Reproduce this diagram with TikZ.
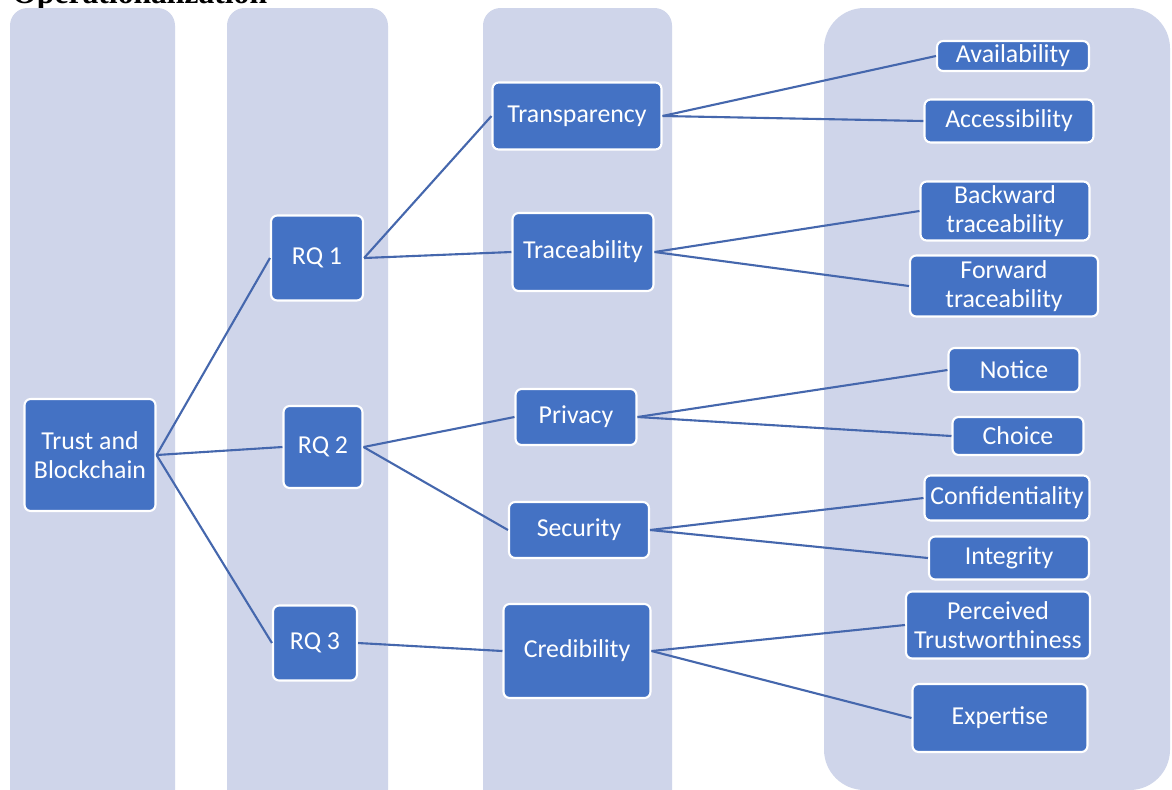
\documentclass[tikz,border=0pt]{standalone}
\usepackage{fontspec}
\setmainfont{Carlito}
\newfontfamily\titlefont{Liberation Serif}
\definecolor{colbg}{HTML}{CFD5EA}
\definecolor{boxblue}{HTML}{4472C4}
\definecolor{linkblue}{HTML}{4567AD}
\tikzset{
  column/.style={
    fill=colbg,
    rounded corners=10pt
  },
  item/.style={
    rectangle,
    rounded corners=3.5pt,
    fill=boxblue,
    draw=white,
    line width=1.2pt,
    text=white,
    align=center,
    inner sep=1pt,
    font=\fontsize{14.7}{16.8}\selectfont
  },
  link/.style={
    draw=linkblue,
    line width=1.2pt
  }
}
\begin{document}
\begin{tikzpicture}[x=0.02cm,y=-0.02cm]

% Page
\useasboundingbox (0,0) rectangle (1172,789);
\clip (0,0) rectangle (1172,789);
\fill[white] (0,0) rectangle (1172,789);

% Title, cut by the page edge
\node[anchor=base west, inner sep=0pt,
  font=\titlefont\bfseries\fontsize{18}{20}\selectfont] (title) at (12,3) {Operationalization};

% ---------- Columns ----------
\fill[column] (10,8) rectangle (175,830);
\fill[column] (227,8) rectangle (388,830);
\fill[column] (483,8) rectangle (672,830);
\fill[column, rounded corners=23pt] (824,8) rectangle (1170,790);

% ---------- Boxes ----------
\foreach \name/\x/\y/\w/\h/\txt in {
  trust/90/455/2.62/2.24/{Trust and\\Blockchain},
  rqa/317/258/1.84/1.70/{RQ 1},
  rqb/323/447/1.58/1.64/{RQ 2},
  rqc/315/643/1.68/1.50/{RQ 3},
  transp/577/116/3.38/1.34/{Transparency},
  trace/583/252/2.82/1.56/{Traceability},
  priv/576/417/2.42/1.12/{Privacy},
  secur/579/530/2.80/1.12/{Security},
  cred/577/651/2.94/1.88/{Credibility},
  avail/1013/56/3.04/0.60/{Availability},
  access/1009/121/3.38/0.86/{Accessibility},
  backw/1005/211/3.38/1.18/{Backward\\traceability},
  forw/1004/286/3.76/1.22/{Forward\\traceability},
  notice/1014/370/2.62/0.88/{Notice},
  choice/1018/436/2.62/0.76/{Choice},
  confid/1007/498/3.30/0.90/{Confidentiality},
  integ/1009/558/3.20/0.86/{Integrity},
  perc/998/625/3.68/1.34/{Perceived\\Trustworthiness},
  expert/1000/718/3.50/1.36/{Expertise}}{
  \node[item, minimum width=\w cm, minimum height=\h cm] (\name) at (\x,\y) {\txt};
}

% ---------- Links ----------
\foreach \from/\to in {
  trust/rqa, trust/rqb, trust/rqc,
  rqa/transp, rqa/trace,
  rqb/priv, rqb/secur,
  rqc/cred,
  transp/avail, transp/access,
  trace/backw, trace/forw,
  priv/notice, priv/choice,
  secur/confid, secur/integ,
  cred/perc, cred/expert}{
  \draw[link] (\from.east) -- (\to.west);
}

\end{tikzpicture}
\end{document}
